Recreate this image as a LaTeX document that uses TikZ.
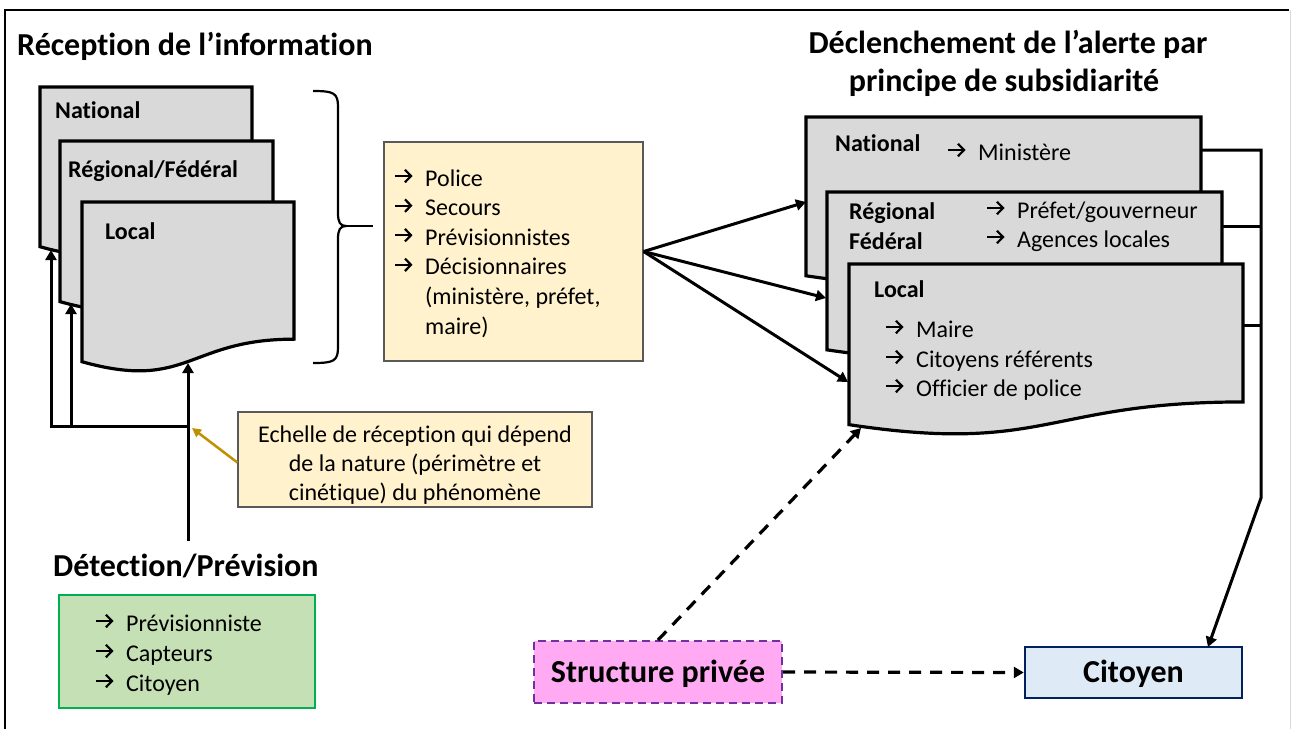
\documentclass[tikz,border=0pt]{standalone}
\usepackage{fontspec}
\setmainfont{Carlito}[Ligatures=NoCommon]
\usetikzlibrary{arrows.meta,calc}
\definecolor{docgray}{HTML}{D9D9D9}
\definecolor{yelfill}{HTML}{FFF2CC}
\definecolor{yelborder}{HTML}{595959}
\definecolor{grnfill}{HTML}{C5E0B4}
\definecolor{grnborder}{HTML}{00B050}
\definecolor{pinkfill}{RGB}{255,170,243}
\definecolor{purpborder}{HTML}{7030A0}
\definecolor{citfill}{HTML}{DEEBF7}
\definecolor{citborder}{HTML}{002060}
\definecolor{goldarrow}{HTML}{BF9000}
% list entry: arrow glyph drawn at (x, baseline-10), text at x+30
\newcommand{\listentry}[4]{%
  \node[lbl] (#1) at ({#2+30},#3) {#4};
  \draw[txtarr] ($(#1.base west)+(-30,-10)$) -- ++(17.5,0);}
\newcommand{\docshape}[5]{%
  \node[inner sep=0pt, outer sep=0pt, minimum width=#4pt, minimum height=#5pt, anchor=north west] (#1) at (#2,#3) {};
  \draw[docline] (#2,#3) -- ({#2+#4},#3) -- ({#2+#4},{#3+0.802*#5})
    .. controls ({#2+0.5*#4},{#3+0.802*#5}) and ({#2+0.5*#4},{#3+1.1075*#5}) .. (#2,{#3+0.934*#5}) -- cycle;}
\tikzset{
  docline/.style={draw=black, fill=docgray, line width=3.2pt, line join=miter},
  conn/.style={draw=black, line width=3pt},
  arr/.style={-{Triangle[length=10pt,width=11pt]}},
  txtarr/.style={draw=black, line width=2.2pt, -{Straight Barb[length=6pt,width=12.5pt,line join=miter]}},
  lbl/.style={font=\fontsize{24}{30}\selectfont, inner sep=0pt, anchor=base west},
  blbl/.style={font=\fontsize{24}{30}\selectfont\bfseries, inner sep=0pt, anchor=base west},
  ttl/.style={font=\fontsize{32}{38}\selectfont\bfseries, inner sep=0pt, anchor=base west},
  dsh/.style={draw=black, line width=3.2pt, dash pattern=on 12pt off 9pt},
}
\begin{document}
\begin{tikzpicture}[x=1pt,y=-1pt]
\useasboundingbox (0,0) rectangle (1293,729);
% frame
\draw[line width=2pt] (5,729) -- (5,10) -- (1289,10);
\draw[black!15, line width=1pt] (1290,10) -- (1290,729);

% titles
\node[ttl] (t1) at (17,55) {Réception de l’information};
\node[ttl, anchor=base] (t2a) at (1008,53) {Déclenchement de l’alerte par};
\node[ttl, anchor=base] (t2b) at (1004,91) {principe de subsidiarité};
\node[ttl] (t3) at (53,576) {Détection/Prévision};

% left documents
\docshape{LNat}{40}{87}{212}{171}
\docshape{LReg}{60}{141}{213}{172}
\docshape{LLoc}{82}{202}{212}{171}
\node[blbl] (tNatL) at (55,118) {National};
\node[blbl] (tRegL) at (68,177) {Régional/Fédéral};
\node[blbl] (tLocL) at (105,239) {Local};

% left connectors
\coordinate (detTop) at (188,541);
\coordinate (busL) at (188,426);
\coordinate (cNat) at (51,426);
\coordinate (cReg) at (71,426);
\coordinate (tipNatL) at (51,250);
\coordinate (tipRegL) at (71,304);
\coordinate (tipLocL) at (188,363);
\draw[conn, arr, line join=miter] (detTop) -- (busL) -- (cNat) -- (tipNatL);
\draw[conn, arr] (cReg) -- (tipRegL);
\draw[conn, arr] (busL) -- (tipLocL);

% brace
\draw[line width=2.2pt] (313,91) .. controls (334,91) and (338,93) .. (338,107) -- (338,213)
  .. controls (338,222) and (340,226) .. (346,226)
  .. controls (340,226) and (338,230) .. (338,239) -- (338,347)
  .. controls (338,361) and (334,363) .. (313,363);
\coordinate (braceTip) at (344,226);
\coordinate (braceEnd) at (373,226);
\draw[line width=2.2pt] (braceTip) -- (braceEnd);

% yellow box
\node[draw=yelborder, fill=yelfill, line width=1.3pt, minimum width=259pt, minimum height=219pt, inner sep=0pt] (yel) at (513.5,251.5) {};
\listentry{y1}{395}{186}{Police}
\listentry{y2}{395}{215.6}{Secours}
\listentry{y3}{395}{245.2}{Prévisionnistes}
\listentry{y4}{395}{274.8}{Décisionnaires}
\node[lbl] (y5) at (425,304.4) {(ministère, préfet,};
\node[lbl] (y6) at (425,334) {maire)};

% echelle box
\node[draw=yelborder, fill=yelfill, line width=1.3pt, minimum width=354pt, minimum height=95pt, inner sep=0pt] (ech) at (415,459.5) {};
\node[lbl, anchor=base] (e1) at (415,442) {Echelle de réception qui dépend};
\node[lbl, anchor=base] (e2) at (415,471) {de la nature (périmètre et};
\node[lbl, anchor=base] (e3) at (415,500) {cinétique) du phénomène};
\coordinate (echTip) at (192,428);
\draw[draw=goldarrow, line width=2.5pt, -{Triangle[length=9pt,width=9pt]}] ($(ech.west)+(0,3)$) -- (echTip);

% green box
\node[draw=grnborder, fill=grnfill, line width=2.5pt, minimum width=256pt, minimum height=113pt, inner sep=0pt] (grn) at (187,651.5) {};
\listentry{g1}{96}{631}{Prévisionniste}
\listentry{g2}{96}{661}{Capteurs}
\listentry{g3}{96}{691}{Citoyen}

% right documents
\docshape{RNat}{806}{117}{395}{170}
\docshape{RReg}{827}{192}{395}{169}
\docshape{RLoc}{849}{264}{394}{172}
\node[blbl] (tNatR) at (835,151) {National};
\listentry{tMin}{948}{160}{Ministère}
\node[blbl] (tRegR) at (849,219) {Régional};
\node[blbl] (tFedR) at (849,249) {Fédéral};
\listentry{tPref}{987}{218}{Préfet/gouverneur}
\listentry{tAg}{987}{247}{Agences locales}
\node[blbl] (tLocR) at (874,297) {Local};
\listentry{tMaire}{886}{337}{Maire}
\listentry{tCitR}{886}{367}{Citoyens référents}
\listentry{tOff}{886}{396}{Officier de police}

% arrows from yellow box to right docs
\coordinate (tipRReg) at (826,298);
\coordinate (tipRLoc) at (848,382);
\draw[conn, arr] (yel.east) -- (RNat.west);
\draw[conn, arr] (yel.east) -- (tipRReg);
\draw[conn, arr] (yel.east) -- (tipRLoc);

% bottom boxes
\node[draw=purpborder, fill=pinkfill, line width=2pt, dash pattern=on 8pt off 5pt, minimum width=248pt, minimum height=62pt, inner sep=0pt, font=\fontsize{32}{38}\selectfont\bfseries, text height=20.6pt, text depth=0pt] (sp) at (658,672) {Structure privée};
\node[draw=citborder, fill=citfill, line width=2.5pt, minimum width=217pt, minimum height=51pt, inner sep=0pt, font=\fontsize{32}{38}\selectfont\bfseries, text height=20.6pt, text depth=0pt] (cit) at (1133.5,672.5) {Citoyen};

% right bus
\coordinate (bNat) at (1201,150);
\coordinate (bReg) at (1222,226);
\coordinate (bLoc) at (1243,325);
\coordinate (busNat) at (1261,150);
\coordinate (busReg) at (1261,226);
\coordinate (busLoc) at (1261,325);
\coordinate (busBot) at (1261,498);
\coordinate (citTip) at (1208,647);
\draw[conn, arr, line join=miter] (bNat) -- (busNat) -- (busBot) -- (citTip);
\draw[conn] (bReg) -- (busReg);
\draw[conn] (bLoc) -- (busLoc);

% dashed arrows
\coordinate (spTip) at (861,428);
\draw[dsh, arr] (sp.north) -- (spTip);
\draw[dsh, arr] (sp.east) -- (cit.west);
\end{tikzpicture}
\end{document}
